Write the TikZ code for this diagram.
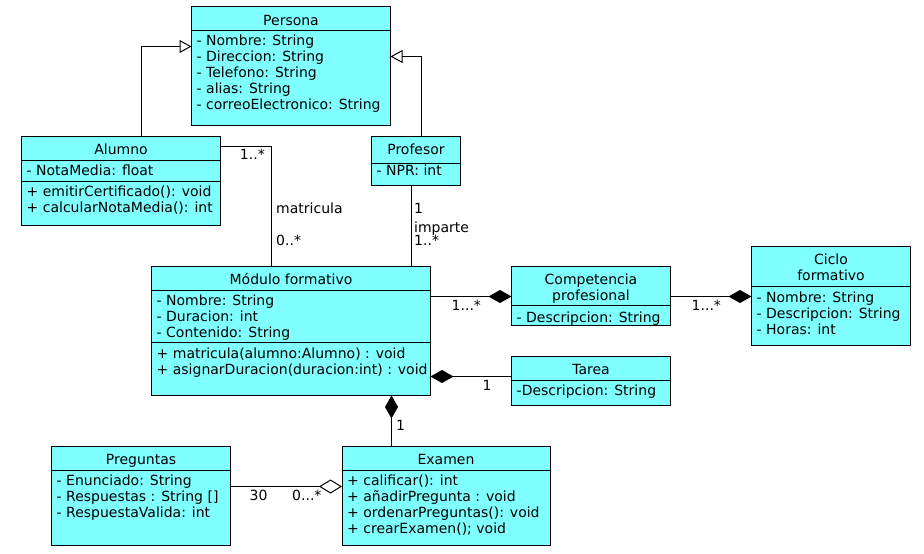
\documentclass[tikz,border=0pt]{standalone}
\usepackage{fontspec}
\setmainfont{DejaVu Sans}
\usetikzlibrary{arrows.meta}
\definecolor{umlcyan}{RGB}{128,255,255}
\newcommand\umlfont{\fontsize{14}{16}\selectfont}
\tikzset{
  classbox/.style={draw, fill=umlcyan, line width=1pt, inner sep=0pt, outer sep=0pt, anchor=north west},
  sepline/.style={line width=1pt},
  ctitle/.style={font=\umlfont, inner sep=0pt, anchor=base},
  ctitle2/.style={font=\umlfont, inner sep=0pt, anchor=north, align=center, execute at begin node=\strut},
  cbody/.style={font=\umlfont, inner sep=0pt, anchor=north west, align=left, execute at begin node=\strut},
  lbl/.style={font=\umlfont, inner sep=0pt},
  link/.style={line width=1pt},
  inherit/.style={link, -{Triangle[open, length=12pt, width=13pt]}},
  compose/.style={link, -{Diamond[length=23pt, width=13pt]}},
  aggregate/.style={link, -{Diamond[open, length=23pt, width=14pt]}}
}
\begin{document}
\begin{tikzpicture}[x=1pt, y=-1pt]
\useasboundingbox (0,0) rectangle (924,554);

% ---------- classes ----------
% Persona
\node[classbox, minimum width=199pt, minimum height=119pt] (persona) at (191.5,6.5) {};
\draw[sepline] (persona.west |- 0,30.5) -- (persona.east |- 0,30.5);
\node[ctitle] (persona-t) at (291,25.5) {Persona};
\node[cbody] (persona-a) at (196.5,35) {- Nombre: String\\- Direccion: String\\- Telefono: String\\- alias: String\\- correoElectronico: String};

% Alumno
\node[classbox, minimum width=199pt, minimum height=89pt] (alumno) at (21.5,136.5) {};
\draw[sepline] (alumno.west |- 0,160.5) -- (alumno.east |- 0,160.5);
\draw[sepline] (alumno.west |- 0,181.5) -- (alumno.east |- 0,181.5);
\node[ctitle] (alumno-t) at (121,154.8) {Alumno};
\node[cbody] (alumno-a) at (26.5,164.5) {- NotaMedia: float};
\node[cbody] (alumno-m) at (26.5,185.2) {+ emitirCertificado(): void\\+ calcularNotaMedia(): int};

% Profesor
\node[classbox, minimum width=89pt, minimum height=49pt] (profesor) at (371.5,136.5) {};
\draw[sepline] (profesor.west |- 0,163.5) -- (profesor.east |- 0,163.5);
\node[ctitle] (profesor-t) at (416,154.8) {Profesor};
\node[cbody] (profesor-a) at (376.5,164.5) {- NPR: int};

% Modulo formativo
\node[classbox, minimum width=279pt, minimum height=129pt] (modulo) at (151.5,266.5) {};
\draw[sepline] (modulo.west |- 0,290.5) -- (modulo.east |- 0,290.5);
\draw[sepline] (modulo.west |- 0,342.5) -- (modulo.east |- 0,342.5);
\node[ctitle] (modulo-t) at (291,284.8) {Módulo formativo};
\node[cbody] (modulo-a) at (156.5,294.5) {- Nombre: String\\- Duracion: int\\- Contenido: String};
\node[cbody] (modulo-m) at (156.5,347.8) {+ matricula(alumno:Alumno) : void\\+ asignarDuracion(duracion:int) : void};

% Competencia profesional
\node[classbox, minimum width=159pt, minimum height=59pt] (competencia) at (511.5,266.5) {};
\draw[sepline] (competencia.west |- 0,305.5) -- (competencia.east |- 0,305.5);
\node[ctitle2] (competencia-t) at (591,273.8) {Competencia\\profesional};
\node[cbody] (competencia-a) at (516.5,311.2) {- Descripcion: String};

% Ciclo formativo
\node[classbox, minimum width=159pt, minimum height=99pt] (ciclo) at (751.5,246.5) {};
\draw[sepline] (ciclo.west |- 0,286.5) -- (ciclo.east |- 0,286.5);
\node[ctitle2] (ciclo-t) at (831,253.5) {Ciclo\\formativo};
\node[cbody] (ciclo-a) at (756.5,291.2) {- Nombre: String\\- Descripcion: String\\- Horas: int};

% Tarea
\node[classbox, minimum width=159pt, minimum height=49pt] (tarea) at (511.5,356.5) {};
\draw[sepline] (tarea.west |- 0,380.5) -- (tarea.east |- 0,380.5);
\node[ctitle] (tarea-t) at (591,374.5) {Tarea};
\node[cbody] (tarea-a) at (516.5,384.5) {-Descripcion: String};

% Preguntas
\node[classbox, minimum width=179pt, minimum height=99pt] (preguntas) at (51.5,446.5) {};
\draw[sepline] (preguntas.west |- 0,470.5) -- (preguntas.east |- 0,470.5);
\node[ctitle] (preguntas-t) at (141,464.5) {Preguntas};
\node[cbody] (preguntas-a) at (56.5,474.5) {- Enunciado: String\\- Respuestas : String []\\- RespuestaValida: int};

% Examen
\node[classbox, minimum width=208pt, minimum height=99pt] (examen) at (342,446.5) {};
\draw[sepline] (examen.west |- 0,470.5) -- (examen.east |- 0,470.5);
\node[ctitle] (examen-t) at (446,464.5) {Examen};
\node[cbody] (examen-m) at (347,474.5) {+ calificar(): int\\+ añadirPregunta : void\\+ ordenarPreguntas(): void\\+ crearExamen(); void};

% ---------- relations ----------
\draw[inherit] (alumno.north -| 141.5,0) |- (persona.west |- 0,46.5);
\draw[inherit] (profesor.north -| 421.5,0) |- (persona.east |- 0,56.5);
\draw[link] (alumno.east |- 0,146.5) -| (modulo.north -| 271.5,0);
\draw[link] (profesor.south -| 411.5,0) -- (modulo.north -| 411.5,0);
\draw[compose] (modulo.east |- 0,296.5) -- (competencia.west |- 0,296.5);
\draw[compose] (competencia.east |- 0,296.5) -- (ciclo.west |- 0,296.5);
\draw[compose] (tarea.west |- 0,376.5) -- (modulo.east |- 0,376.5);
\draw[compose] (examen.north -| 391.5,0) -- (modulo.south -| 391.5,0);
\draw[aggregate] (preguntas.east |- 0,486.5) -- (examen.west |- 0,486.5);

% ---------- multiplicities and role names ----------
\node[lbl, anchor=base east] (m-alumno) at (265,159.5) {1..*};
\node[lbl, anchor=base west] (m-matricula) at (276,213.5) {matricula};
\node[lbl, anchor=base west] (m-modulo1) at (276,245.5) {0..*};
\node[lbl, anchor=base west] (m-profesor) at (414,213.5) {1};
\node[lbl, anchor=base west] (m-imparte) at (414,232) {imparte};
\node[lbl, anchor=base west] (m-modulo2) at (414,245.5) {1..*};
\node[lbl, anchor=base west] (m-comp) at (451.5,310.5) {1...*};
\node[lbl, anchor=base west] (m-ciclo) at (691.5,310.5) {1...*};
\node[lbl, anchor=base west] (m-tarea) at (482.5,390.5) {1};
\node[lbl, anchor=base west] (m-examen) at (396,430.5) {1};
\node[lbl, anchor=base west] (m-preg) at (249.5,500.5) {30};
\node[lbl, anchor=base west] (m-exam2) at (292,500.5) {0...*};
\end{tikzpicture}
\end{document}
